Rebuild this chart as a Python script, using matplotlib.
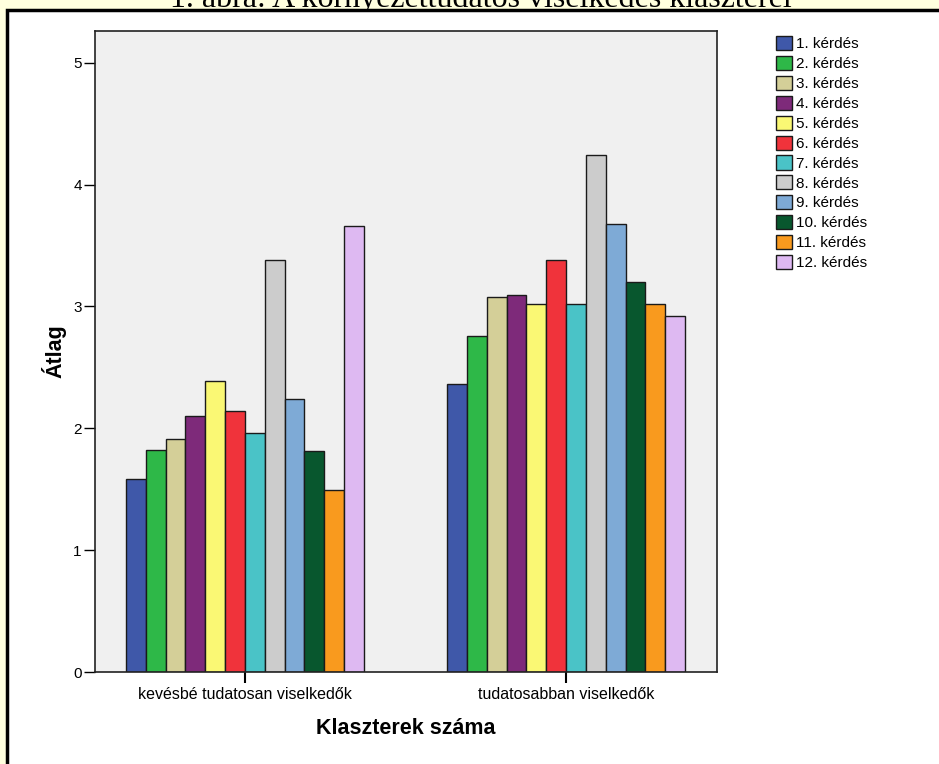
import matplotlib
matplotlib.use("Agg")
import matplotlib.pyplot as plt
from matplotlib.patches import Rectangle
import numpy as np

plt.rcParams["font.family"] = ["Liberation Sans", "DejaVu Sans"]

# ─── data ────────────────────────────────────────────────────────────────────
CLUSTERS = ["kevésbé tudatosan viselkedők", "tudatosabban viselkedők"]
QUESTIONS = [f"{i}. kérdés" for i in range(1, 13)]
LOW  = [1.58, 1.82, 1.91, 2.10, 2.39, 2.14, 1.96, 3.38, 2.24, 1.81, 1.49, 3.66]
HIGH = [2.36, 2.76, 3.08, 3.09, 3.02, 3.38, 3.02, 4.24, 3.68, 3.20, 3.02, 2.92]
COLORS = ["#3F58A9", "#2EB848", "#D4CF98", "#7E2A7A", "#FAF874", "#F0333B",
          "#4AC3C7", "#CCCCCC", "#7EAAD6", "#08572E", "#F99A1E", "#DEB9F2"]

# ─── figure ──────────────────────────────────────────────────────────────────
fig = plt.figure(figsize=(9.39, 7.64), dpi=100)
fig.patch.set_facecolor("#FFFFDE")

# white panel with black border (figure is cropped from a page)
fig.patches.append(Rectangle((7 / 939, -0.05), 1.1, 1 - 10 / 764 + 0.05,
                             transform=fig.transFigure, facecolor="white",
                             edgecolor="black", linewidth=2.5, zorder=-5))
fig.text(481 / 939, 1 - 7 / 764, "1. ábra: A környezettudatos viselkedés klaszterei",
         family="Liberation Serif", fontsize=23, ha="center", va="baseline",
         zorder=-6)

ax = fig.add_axes([95 / 939, 1 - 672 / 764, (717 - 95) / 939, (672 - 31) / 764])
ax.set_facecolor("#F0F0F0")

n = len(QUESTIONS)
width = 0.0618
x = np.arange(len(CLUSTERS))
for i, (q, c) in enumerate(zip(QUESTIONS, COLORS)):
    off = (i - (n - 1) / 2) * width
    ax.bar(x + off, [LOW[i], HIGH[i]], width=width, color=c, edgecolor="#1a1a1a",
           linewidth=1.0, label=q, zorder=2)

ax.set_xlim(-0.467, 1.47)
ax.set_ylim(0, 5.26)
ax.set_yticks(range(6))
ax.set_xticks(x)
ax.set_xticklabels(CLUSTERS, fontsize=11.5)
ax.tick_params(axis="y", length=8, width=1, labelsize=11, pad=1.5)
ax.tick_params(axis="x", length=8, width=1.5, pad=2.5)
for s in ax.spines.values():
    s.set_color("#222222")
    s.set_linewidth(1.2)

ax.set_ylabel("Átlag", fontsize=15.5, fontweight="bold", labelpad=5)
ax.set_xlabel("Klaszterek száma", fontsize=15.5, fontweight="bold", labelpad=12)

leg = ax.legend(loc="upper left", bbox_to_anchor=(770 / 939, 1 - 30 / 764),
                bbox_transform=fig.transFigure, frameon=False, fontsize=11,
                handlelength=1.05, handleheight=1.05, labelspacing=0.3,
                handletextpad=0.25, borderaxespad=0)
for h in leg.legend_handles:
    h.set_edgecolor("#1a1a1a")

fig.savefig("out.png", dpi=100, facecolor=fig.get_facecolor())
